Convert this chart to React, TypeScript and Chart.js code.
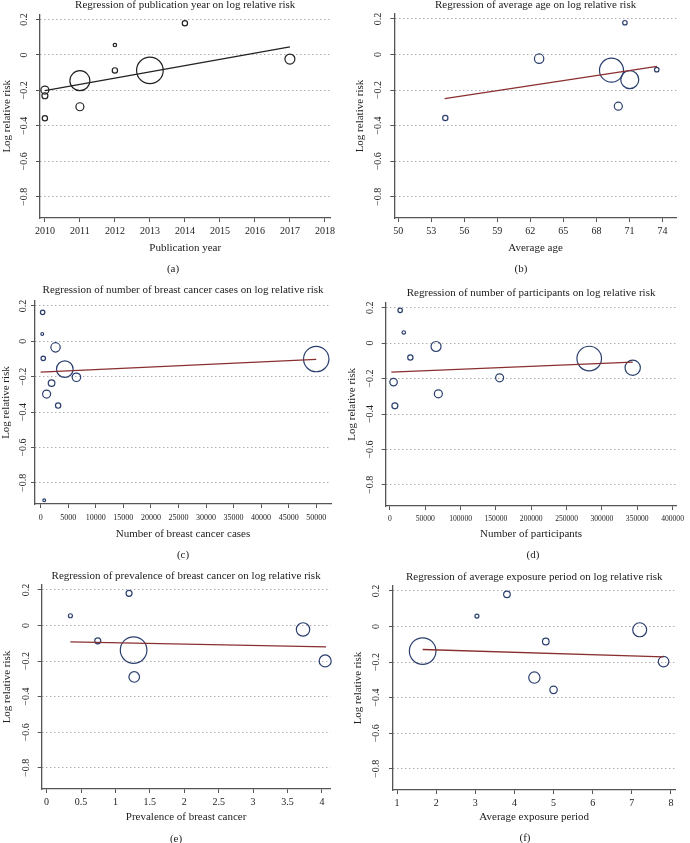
import React, { useEffect, useRef } from "react";
import { Chart, registerables } from "chart.js";

Chart.register(...registerables);

const FONT = "'Liberation Serif', 'DejaVu Serif', serif";
const TEXT = "#222";
const AXIS = "#555";
const NAVY = "#2B3F6E";
const FIT_RED = "#8A2F2F";

// shared y axis
const yTicks = [0.2, 0, -0.2, -0.4, -0.6, -0.8];
const yMin = -0.919;
const yMax = 0.228;

// (a) publication year
const aYear = [2010, 2010, 2010, 2011, 2011, 2012, 2012, 2013, 2014, 2017];
const aLogRR = [-0.198, -0.23, -0.357, -0.145, -0.292, 0.056, -0.087, -0.087, 0.179, -0.023];
const aWeight = [16, 9, 7, 100, 16, 3, 7, 177, 7, 25];
const aFitX = [2010, 2017];
const aFitY = [-0.201, 0.046];
const aTicks = [2010, 2011, 2012, 2013, 2014, 2015, 2016, 2017, 2018];

// (b) average age
const bAge = [54.28, 62.8, 69.37, 69.99, 71.03, 70.59, 73.48];
const bLogRR = [-0.357, -0.023, -0.088, -0.29, -0.141, 0.179, -0.085];
const bWeight = [7, 22, 144, 16, 81, 5, 5];
const bFitX = [54.22, 73.5];
const bFitY = [-0.248, -0.066];
const bTicks = [50, 53, 56, 59, 62, 65, 68, 71, 74];

// (c) number of breast cancer cases
const cCases = [360, 288, 468, 2700, 4380, 6490, 1980, 1080, 3170, 648, 50000];
const cLogRR = [0.164, 0.042, -0.096, -0.034, -0.157, -0.203, -0.236, -0.298, -0.363, -0.898, -0.1];
const cWeight = [5, 2, 5, 22, 69, 18, 11, 16, 7, 2, 161];
const cFitX = [0, 50000];
const cFitY = [-0.174, -0.102];
const cTicks = [0, 5000, 10000, 15000, 20000, 25000, 30000, 35000, 40000, 45000, 50000];

// (d) number of participants
const dParticipants = [14450, 19580, 28900, 65270, 68530, 5130, 6990, 155240, 282050, 343590];
const dLogRR = [0.185, 0.06, -0.081, -0.019, -0.286, -0.22, -0.354, -0.196, -0.087, -0.139];
const dWeight = [5, 3, 7, 25, 16, 14, 9, 16, 151, 59];
const dFitX = [2000, 343590];
const dFitY = [-0.164, -0.107];
const dTicks = [0, 50000, 100000, 150000, 200000, 250000, 300000, 350000, 400000];

// (e) prevalence of breast cancer
const ePrevalence = [0.346, 0.743, 1.198, 1.264, 1.273, 3.725, 4.047];
const eLogRR = [0.055, -0.086, 0.181, -0.138, -0.289, -0.022, -0.199];
const eWeight = [4, 9, 9, 177, 28, 45, 36];
const eFitX = [0.346, 4.06];
const eFitY = [-0.092, -0.12];
const eTicks = [0, 0.5, 1, 1.5, 2, 2.5, 3, 3.5, 4];

// (f) average exposure period
const fExposure = [1.653, 3.04, 3.807, 4.8, 4.508, 4.998, 7.2, 7.81];
const fLogRR = [-0.138, 0.059, 0.181, -0.084, -0.287, -0.356, -0.018, -0.197];
const fWeight = [177, 4, 11, 11, 32, 14, 49, 28];
const fFitX = [1.653, 7.81];
const fFitY = [-0.129, -0.171];
const fTicks = [1, 2, 3, 4, 5, 6, 7, 8];

type Spec = {
  title: string;
  xTitle: string;
  caption: string;
  xs: number[];
  ys: number[];
  ws: number[];
  fitX: number[];
  fitY: number[];
  xTicks: number[];
  xMin: number;
  xMax: number;
  mark: string;
  fit: string;
  box: { x: number; y: number; w: number; h: number };
  plot: { l: number; t: number; r: number; b: number };
  titleY: number;
  captionX: number;
  captionY: number;
  yTitleX: number;
  yLabelGap: number;
  xTitleOff: number;
  tickFont: number;
  tickOff: number;
};

const panels: Spec[] = [
  {
    title: "Regression of publication year on log relative risk",
    xTitle: "Publication year",
    caption: "(a)",
    xs: aYear, ys: aLogRR, ws: aWeight, fitX: aFitX, fitY: aFitY,
    xTicks: aTicks, xMin: 2009.86, xMax: 2018.16,
    mark: "#222", fit: "#222",
    box: { x: 0, y: 0, w: 345, h: 280 },
    plot: { l: 40, t: 14, r: 337, b: 218 },
    titleY: 5, captionX: 173, captionY: 269, yTitleX: 6.7, yLabelGap: 16, xTitleOff: 30,
    tickFont: 10, tickOff: 13,
  },
  {
    title: "Regression of average age on log relative risk",
    xTitle: "Average age",
    caption: "(b)",
    xs: bAge, ys: bLogRR, ws: bWeight, fitX: bFitX, fitY: bFitY,
    xTicks: bTicks, xMin: 49.65, xMax: 75.3,
    mark: NAVY, fit: FIT_RED,
    box: { x: 345, y: 0, w: 345, h: 280 },
    plot: { l: 49.3, t: 14, r: 343, b: 218 },
    titleY: 5, captionX: 176, captionY: 269, yTitleX: 15, yLabelGap: 16, xTitleOff: 30,
    tickFont: 10, tickOff: 13,
  },
  {
    title: "Regression of number of breast cancer cases on log relative risk",
    xTitle: "Number of breast cancer cases",
    caption: "(c)",
    xs: cCases, ys: cLogRR, ws: cWeight, fitX: cFitX, fitY: cFitY,
    xTicks: cTicks, xMin: -1027, xMax: 52700,
    mark: NAVY, fit: FIT_RED,
    box: { x: 0, y: 280, w: 345, h: 280 },
    plot: { l: 35, t: 21, r: 333, b: 224 },
    titleY: 10, captionX: 183, captionY: 275, yTitleX: 6.6, yLabelGap: 12, xTitleOff: 30,
    tickFont: 8, tickOff: 14,
  },
  {
    title: "Regression of number of participants on log relative risk",
    xTitle: "Number of participants",
    caption: "(d)",
    xs: dParticipants, ys: dLogRR, ws: dWeight, fitX: dFitX, fitY: dFitY,
    xTicks: dTicks, xMin: -6000, xMax: 405600,
    mark: NAVY, fit: FIT_RED,
    box: { x: 345, y: 280, w: 345, h: 280 },
    plot: { l: 40.7, t: 22.7, r: 335, b: 226 },
    titleY: 13, captionX: 188, captionY: 275, yTitleX: 6.7, yLabelGap: 15.7, xTitleOff: 28,
    tickFont: 7.6, tickOff: 13,
  },
  {
    title: "Regression of prevalence of breast cancer on log relative risk",
    xTitle: "Prevalence of breast cancer",
    caption: "(e)",
    xs: ePrevalence, ys: eLogRR, ws: eWeight, fitX: eFitX, fitY: eFitY,
    xTicks: eTicks, xMin: -0.071, xMax: 4.124,
    mark: NAVY, fit: FIT_RED,
    box: { x: 0, y: 560, w: 345, h: 283 },
    plot: { l: 41.7, t: 25, r: 337, b: 229 },
    titleY: 16, captionX: 176, captionY: 279, yTitleX: 7.3, yLabelGap: 15, xTitleOff: 28,
    tickFont: 10, tickOff: 13,
  },
  {
    title: "Regression of average exposure period on log relative risk",
    xTitle: "Average exposure period",
    caption: "(f)",
    xs: fExposure, ys: fLogRR, ws: fWeight, fitX: fFitX, fitY: fFitY,
    xTicks: fTicks, xMin: 0.895, xMax: 8.115,
    mark: NAVY, fit: FIT_RED,
    box: { x: 345, y: 560, w: 345, h: 283 },
    plot: { l: 48, t: 26, r: 343, b: 230 },
    titleY: 16.7, captionX: 180, captionY: 278, yTitleX: 13.3, yLabelGap: 16.7, xTitleOff: 27,
    tickFont: 10, tickOff: 13,
  },
];

const fmtY = (v: number) => (v === 0 ? "0" : v < 0 ? "\u2212" + String(Math.abs(v)) : String(v));

function Panel({ spec }: { spec: Spec }) {
  const ref = useRef<HTMLCanvasElement | null>(null);

  useEffect(() => {
    if (!ref.current) return;
    const { box, plot } = spec;
    const LH = 11 * 1.2;
    const xH = spec.xTitleOff + LH / 2;
    const tickLen = 4;
    const tickPad = Math.max(0, spec.tickOff - tickLen - (spec.tickFont * 1.2) / 2);

    const textPlugin = {
      id: "panelText",
      afterDraw(chart: any) {
        const ctx = chart.ctx;
        const ys = chart.scales.y;
        const area = chart.chartArea;
        ctx.save();
        ctx.fillStyle = TEXT;
        ctx.textAlign = "center";
        ctx.textBaseline = "middle";
        ctx.font = `10px ${FONT}`;
        for (const v of yTicks) {
          const py = ys.getPixelForValue(v);
          ctx.save();
          ctx.translate(area.left - spec.yLabelGap, py);
          ctx.rotate(-Math.PI / 2);
          ctx.fillText(fmtY(v), 0, 0);
          ctx.restore();
        }
        ctx.font = `11px ${FONT}`;
        ctx.fillText(spec.title, (area.left + area.right) / 2, spec.titleY);
        ctx.fillText(spec.caption, spec.captionX, spec.captionY);
        ctx.restore();
      },
    };

    const chart = new Chart(ref.current, {
      type: "bubble",
      data: {
        datasets: [
          {
            type: "line",
            data: spec.fitX.map((x, i) => ({ x, y: spec.fitY[i] })),
            borderColor: spec.fit,
            borderWidth: 1.3,
            pointRadius: 0,
            fill: false,
            tension: 0,
            clip: false,
          } as any,
          {
            type: "bubble",
            data: spec.xs.map((x, i) => ({ x, y: spec.ys[i], r: Math.sqrt(spec.ws[i]) })),
            borderColor: spec.mark,
            backgroundColor: "rgba(0,0,0,0)",
            borderWidth: 1.2,
            clip: false,
          } as any,
        ],
      },
      options: {
        responsive: false,
        animation: false,
        events: [],
        layout: {
          padding: {
            left: 0,
            top: plot.t,
            right: box.w - plot.r,
            bottom: box.h - plot.b - xH,
          },
        },
        plugins: {
          legend: { display: false },
          tooltip: { enabled: false },
          title: { display: false },
        },
        scales: {
          x: {
            type: "linear",
            min: spec.xMin,
            max: spec.xMax,
            afterBuildTicks: (s: any) => {
              s.ticks = spec.xTicks.map((v) => ({ value: v }));
            },
            afterFit: (s: any) => {
              s.height = xH;
              s.paddingLeft = 0;
              s.paddingRight = 0;
            },
            ticks: {
              autoSkip: false,
              maxRotation: 0,
              minRotation: 0,
              padding: tickPad,
              color: TEXT,
              font: { family: FONT, size: spec.tickFont },
              callback: (v: any) => String(v),
            },
            grid: {
              display: true,
              drawOnChartArea: false,
              drawTicks: true,
              tickLength: tickLen,
              tickColor: AXIS,
              tickWidth: 1,
            },
            border: { display: true, color: AXIS, width: 1.3 },
            title: {
              display: true,
              text: spec.xTitle,
              color: TEXT,
              font: { family: FONT, size: 11 },
              padding: { top: 0, bottom: 0 },
            },
          },
          y: {
            type: "linear",
            min: yMin,
            max: yMax,
            afterBuildTicks: (s: any) => {
              s.ticks = yTicks.map((v) => ({ value: v }));
            },
            afterFit: (s: any) => {
              s.width = plot.l;
              s.paddingTop = 0;
              s.paddingBottom = 0;
            },
            ticks: { display: false },
            grid: {
              display: true,
              drawOnChartArea: true,
              drawTicks: true,
              color: "#8a8a8a",
              lineWidth: 1,
              tickLength: tickLen,
              tickColor: AXIS,
              tickWidth: 1,
              tickBorderDash: [],
            },
            border: { display: true, color: AXIS, width: 1.3, dash: [1, 3] },
            title: {
              display: true,
              text: "Log relative risk",
              color: TEXT,
              font: { family: FONT, size: 11 },
              padding: { top: Math.max(0, spec.yTitleX - LH / 2), bottom: 0 },
            },
          },
        },
      } as any,
      plugins: [textPlugin],
    });

    return () => chart.destroy();
  }, [spec]);

  const { box } = spec;
  return (
    <div style={{ position: "absolute", left: box.x, top: box.y, width: box.w, height: box.h }}>
      <canvas
        ref={ref}
        width={box.w}
        height={box.h}
        style={{ width: box.w, height: box.h, display: "block" }}
      />
    </div>
  );
}

export default function App() {
  return (
    <div
      style={{
        position: "absolute",
        left: 0,
        top: 0,
        width: 690,
        height: 843,
        background: "#fff",
        overflow: "hidden",
      }}
    >
      {panels.map((p) => (
        <Panel key={p.caption} spec={p} />
      ))}
    </div>
  );
}
